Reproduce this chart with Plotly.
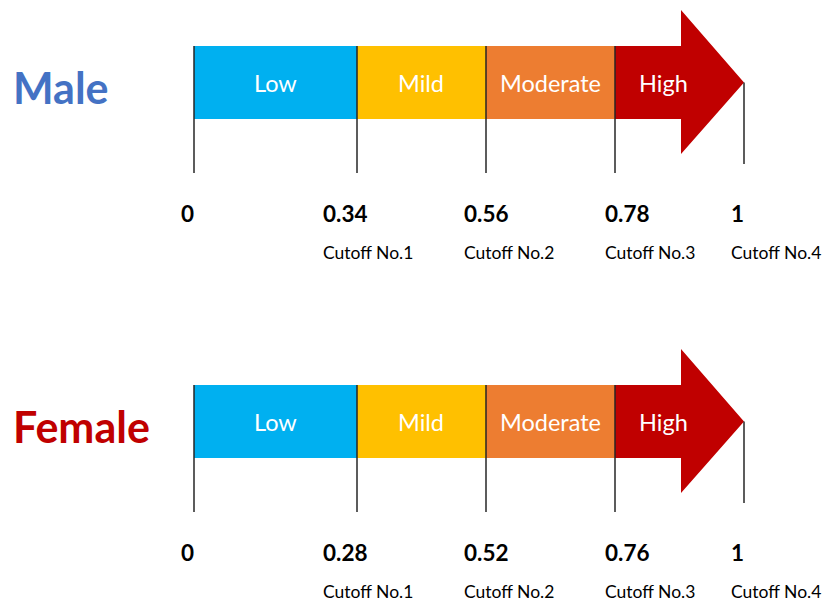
import plotly.graph_objects as go

# ---- data ----
categories = ["Low", "Mild", "Moderate", "High"]
groups = ["Male", "Female"]
male_cutoffs = ["0", "0.34", "0.56", "0.78", "1"]
female_cutoffs = ["0", "0.28", "0.52", "0.76", "1"]
cutoff_names = ["", "Cutoff No.1", "Cutoff No.2", "Cutoff No.3", "Cutoff No.4"]

# ---- styling / layout constants ----
seg_colors = ["#00B0F0", "#FFC000", "#ED7D31", "#C00000"]
group_colors = ["#4472C4", "#C00000"]
bounds = [194, 357, 486, 615, 744]      # diagram boundary positions
head_base = 681
row_top = [46, 385]
bar_h = 73
label_x = [180, 322, 463, 604, 730]
seg_label_x = [275, 421, 550, 663]
FONT = "Lato, Carlito, Calibri, sans-serif"

fig = go.Figure()
annotations = []

for r, (g, cuts) in enumerate(zip(groups, [male_cutoffs, female_cutoffs])):
    top = row_top[r]
    bot = top + bar_h
    mid = top + bar_h / 2
    # rectangles for first three segments
    for i in range(3):
        x0, x1 = bounds[i], bounds[i + 1]
        fig.add_trace(go.Scatter(
            x=[x0, x1, x1, x0, x0], y=[top, top, bot, bot, top],
            mode="lines", fill="toself", fillcolor=seg_colors[i],
            line=dict(width=0, color=seg_colors[i]), hoverinfo="skip", showlegend=False))
    # arrow for High
    xs = [bounds[3], head_base, head_base, bounds[4], head_base, head_base, bounds[3], bounds[3]]
    ys = [top, top, top - 36, mid, bot + 35, bot, bot, top]
    fig.add_trace(go.Scatter(
        x=xs, y=ys, mode="lines", fill="toself", fillcolor=seg_colors[3],
        line=dict(width=0, color=seg_colors[3]), hoverinfo="skip", showlegend=False))
    # boundary lines
    for i, bx in enumerate(bounds):
        y0 = top if i < 4 else mid
        y1 = top + 127 if i < 4 else top + 118
        fig.add_trace(go.Scatter(
            x=[bx, bx], y=[y0, y1], mode="lines",
            line=dict(width=1.5, color="#262626"), hoverinfo="skip", showlegend=False))
    # segment labels
    for i, c in enumerate(categories):
        annotations.append(dict(x=seg_label_x[i], y=mid, text=c, showarrow=False,
                                xanchor="center", yanchor="middle",
                                font=dict(family=FONT, size=23.5, color="white")))
    # group label
    annotations.append(dict(x=11, y=mid + 5, text=f"<b>{g}</b>", showarrow=False,
                            xanchor="left", yanchor="middle",
                            font=dict(family=FONT, size=43, color=group_colors[r])))
    # cutoff values and names
    for i, v in enumerate(cuts):
        annotations.append(dict(x=label_x[i] - 1, y=top + 167, text=f"<b>{v}</b>", showarrow=False,
                                xanchor="left", yanchor="middle",
                                font=dict(family=FONT, size=22.5, color="black")))
        if cutoff_names[i]:
            annotations.append(dict(x=label_x[i] - 1, y=top + 206, text=cutoff_names[i], showarrow=False,
                                    xanchor="left", yanchor="middle",
                                    font=dict(family=FONT, size=17.5, color="black")))

fig.update_layout(
    width=826, height=601,
    margin=dict(l=0, r=0, t=0, b=0),
    paper_bgcolor="white", plot_bgcolor="white",
    xaxis=dict(range=[0, 826], visible=False, fixedrange=True),
    yaxis=dict(range=[601, 0], visible=False, fixedrange=True),
    annotations=annotations,
    showlegend=False,
)
fig.write_html("out.html")
